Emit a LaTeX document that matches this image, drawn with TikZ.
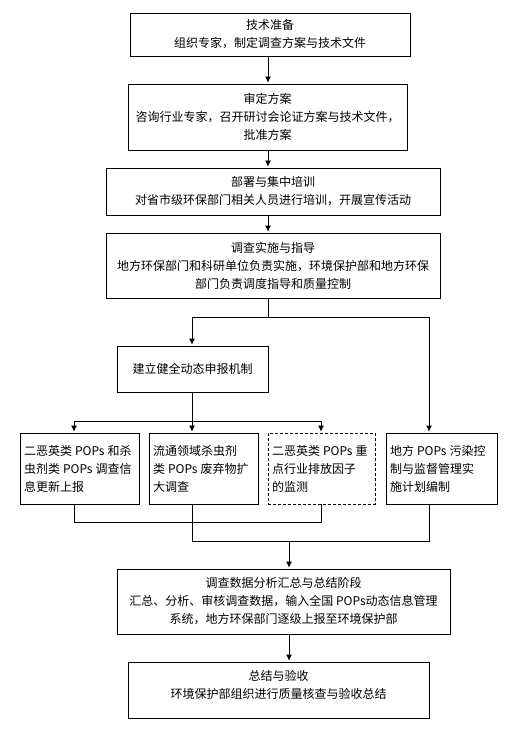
\documentclass[tikz,border=0pt]{standalone}
\usepackage{fontspec}
\setmainfont{Noto Sans CJK SC}
\usetikzlibrary{
    arrows.meta,
    positioning
}
\newcommand{\gap}{\hspace{3pt}}

\begin{document}
\begin{tikzpicture}[x=1pt,y=-1pt,line width=0.8pt,>={Latex[length=6pt,width=6pt]},font=\fontsize{12}{18}\selectfont]
    \tikzstyle{stepbox}=[draw, rectangle, align=center, inner sep=0pt]
    \tikzstyle{rowbox}=[stepbox, align=left, inner xsep=4pt, minimum height=71pt]
    \tikzstyle{flow}=[->, shorten >=1pt]
    \useasboundingbox (0,0) rectangle (517,743);

	\node[stepbox, minimum width=280pt, minimum height=43pt] (prep) at (270, 34.5) {技术准备\\组织专家，制定调查方案与技术文件};
	\node[stepbox, minimum width=279pt, minimum height=66pt] (review) at (267.5, 117) {审定方案\\咨询行业专家，召开研讨会论证方案与技术文件，\\批准方案};
	\node[stepbox, minimum width=334pt, minimum height=47pt] (train) at (273, 191.5) {部署与集中培训\\对省市级环保部门相关人员进行培训，开展宣传活动};
	\node[stepbox, minimum width=334pt, minimum height=65pt] (impl) at (273, 265.5) {调查实施与指导\\地方环保部门和科研单位负责实施，环境保护部和地方环保\\部门负责调度指导和质量控制};

	\node[stepbox, minimum width=151pt, minimum height=46pt] (mech) at (192.5, 369) {建立健全动态申报机制};

	\node[rowbox, text width=111pt] (dioxin) at (79.5, 468.5) {\mbox{二恶英类\gap POPs\gap 和杀}\\\mbox{虫剂类\gap POPs\gap 调查信}\\\mbox{息更新上报}};
	\node[rowbox, text width=101pt] (waste) at (203.5, 468.5) {\mbox{流通领域杀虫剂}\\\mbox{类\gap POPs\gap 废弃物扩}\\\mbox{大调查}};
	\node[rowbox, text width=99pt, dash pattern=on 3pt off 2pt] (monitor) at (321.5, 468.5) {\mbox{二恶英类\gap POPs\gap 重}\\\mbox{点行业排放因子}\\\mbox{的监测}};
	\node[rowbox, text width=103pt] (plan) at (441.5, 468.5) {\mbox{地方\gap POPs\gap 污染控}\\\mbox{制与监督管理实}\\\mbox{施计划编制}};

	\node[stepbox, minimum width=333pt, minimum height=65pt] (anal) at (283.5, 601.5) {调查数据分析汇总与总结阶段\\汇总、分析、审核调查数据，输入全国 POPs动态信息管理\\系统，地方环保部门逐级上报至环境保护部};
	\node[stepbox, minimum width=301pt, minimum height=56pt] (accept) at (278.5, 690) {总结与验收\\环境保护部组织进行质量核查与验收总结\\[-6pt]\mbox{}};

	% columns and junctions
	\coordinate (spine) at (268, 0);
	\coordinate (colA) at (74, 0);
	\coordinate (colB) at (192, 0);
	\coordinate (colC) at (321, 0);
	\coordinate (colD) at (429, 0);
	\coordinate (colE) at (289, 0);
	\coordinate (split) at (0, 317);
	\coordinate (fork) at (0, 421);
	\coordinate (joinA) at (0, 522);
	\coordinate (joinB) at (0, 541);

	\draw [flow] (spine |- prep.south) -- (spine |- review.north);
	\draw [flow] (spine |- review.south) -- (spine |- train.north);
	\draw [flow] (spine |- train.south) -- (spine |- impl.north);

	\draw (spine |- impl.south) -- (spine |- split);
	\draw (colB |- split) -- (colD |- split);
	\draw [flow] (colB |- split) -- (colB |- mech.north);
	\draw [flow] (colD |- split) -- (colD |- plan.north);

	\draw (colB |- mech.south) -- (colB |- fork);
	\draw (colA |- fork) -- (colC |- fork);
	\draw [flow] (colA |- fork) -- (colA |- dioxin.north);
	\draw [flow] (colB |- fork) -- (colB |- waste.north);
	\draw [flow] (colC |- fork) -- (colC |- monitor.north);

	\draw (colA |- dioxin.south) -- (colA |- joinA) -- (colC |- joinA) -- (colC |- monitor.south);
	\draw (colB |- waste.south) -- (colB |- joinB) -- (colD |- joinB) -- (colD |- plan.south);

	\draw [flow] (colE |- joinB) -- (colE |- anal.north);
	\draw [flow] (colE |- anal.south) -- (colE |- accept.north);
\end{tikzpicture}
\end{document}
